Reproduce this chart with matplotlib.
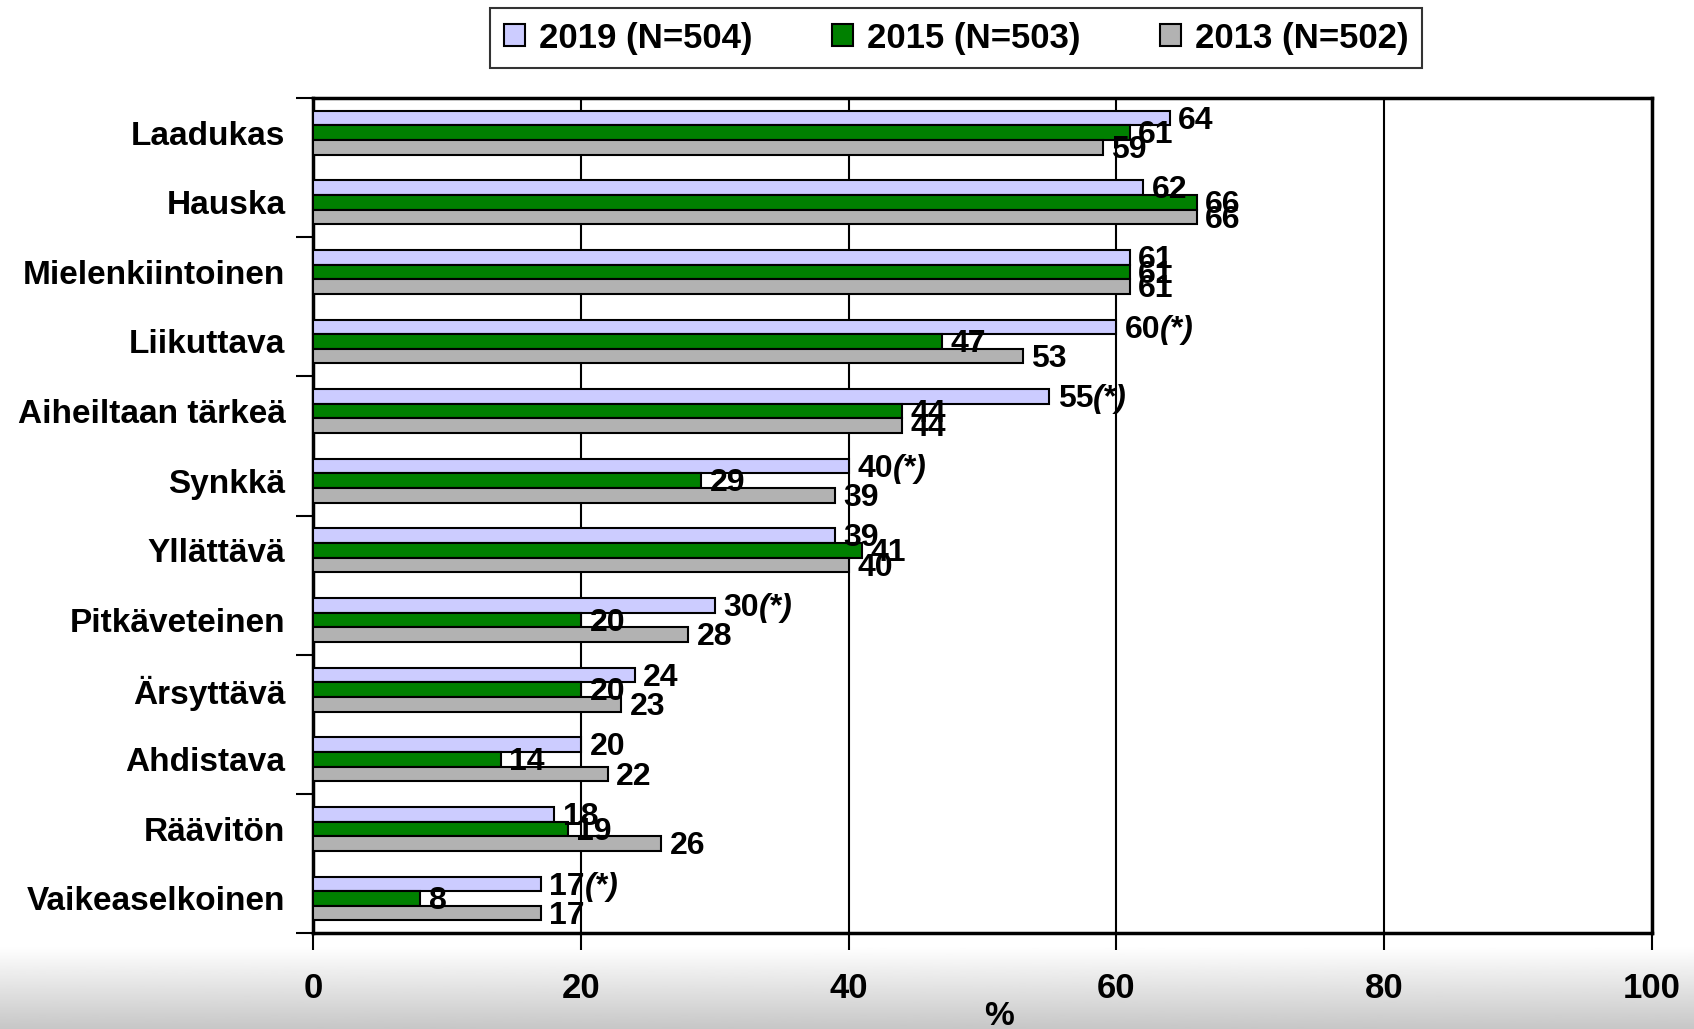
import matplotlib
matplotlib.use("Agg")

import matplotlib.pyplot as plt
import numpy as np
from matplotlib.patches import Patch

plt.rcParams['font.family'] = ['Liberation Sans', 'DejaVu Sans']
plt.rcParams['font.weight'] = 'bold'

categories = ["Laadukas", "Hauska", "Mielenkiintoinen", "Liikuttava",
              "Aiheiltaan tärkeä", "Synkkä", "Yllättävä", "Pitkäveteinen",
              "Ärsyttävä", "Ahdistava", "Räävitön", "Vaikeaselkoinen"]
series_names = ["2019 (N=504)", "2015 (N=503)", "2013 (N=502)"]
v2019 = [64, 62, 61, 60, 55, 40, 39, 30, 24, 20, 18, 17]
v2015 = [61, 66, 61, 47, 44, 29, 41, 20, 20, 14, 19, 8]
v2013 = [59, 66, 61, 53, 44, 39, 40, 28, 23, 22, 26, 17]
# significant change marks on 2019 values
star2019 = [False, False, False, True, True, True, False, True, False, False, False, True]
x_ticks = [0, 20, 40, 60, 80, 100]

colors = ["#ccccff", "#008000", "#b2b2b2"]

fig = plt.figure(figsize=(16.94, 10.29), dpi=100)

# slide background gradient at the bottom
bg = fig.add_axes([0, 0, 1, 0.08], zorder=-5)
grad = np.linspace(0.78, 1.0, 100).reshape(-1, 1)
bg.imshow(grad, aspect="auto", cmap="gray", vmin=0, vmax=1, origin="lower",
          extent=[0, 1, 0, 1])
bg.axis("off")

ax = fig.add_axes([0.185, 0.093, 0.79, 0.812])
ax.set_facecolor("white")

y = np.arange(len(categories))
h = 0.21
series = [v2019, v2015, v2013]
for k, vals in enumerate(series):
    ax.barh(y + (k - 1) * h, vals, height=h, color=colors[k],
            edgecolor="black", linewidth=1.5, zorder=3)

fs_val = 23
for i in range(len(categories)):
    for k, vals in enumerate(series):
        t = ax.annotate(str(vals[i]), xy=(vals[i], y[i] + (k - 1) * h),
                        xytext=(6, -2), textcoords="offset points",
                        ha="left", va="center", fontsize=fs_val,
                        fontweight="bold", zorder=5)
        if k == 0 and star2019[i]:
            ax.annotate("(*)", xy=(1, 0), xycoords=t, ha="left", va="bottom",
                        fontsize=fs_val, fontweight="bold", style="italic",
                        zorder=5)

ax.set_xlim(0, 100)
ax.set_ylim(len(categories) - 0.5, -0.5)
ax.set_xticks(x_ticks)
ax.set_xticklabels([str(v) for v in x_ticks])
ax.set_yticks(y)
ax.set_yticklabels(categories)
ax.tick_params(axis="y", length=0, labelsize=24, pad=20)
ax.tick_params(axis="x", length=12, width=1.5, labelsize=25, pad=16)
ax.set_yticks(np.arange(-0.5, len(categories), 2), minor=True)
ax.tick_params(axis="y", which="minor", length=12, width=1.5)
ax.grid(axis="x", color="black", linewidth=1.5, zorder=0)
for s in ax.spines.values():
    s.set_linewidth(2.5)
    s.set_color("black")

fig.text(0.59, 0.012, "%", ha="center", va="center", fontsize=24,
         fontweight="bold")

handles = [Patch(facecolor=c, edgecolor="black", linewidth=1.5) for c in colors]
leg = fig.legend(handles, series_names, loc="center",
                 bbox_to_anchor=(0.5644, 0.963), ncol=3, fontsize=25,
                 frameon=True, fancybox=False, edgecolor="black",
                 handlelength=0.6, handleheight=0.6, handletextpad=0.4,
                 columnspacing=2.3, borderpad=0.4)
leg.get_frame().set_linewidth(1.5)

fig.savefig("out.png", dpi=100)
